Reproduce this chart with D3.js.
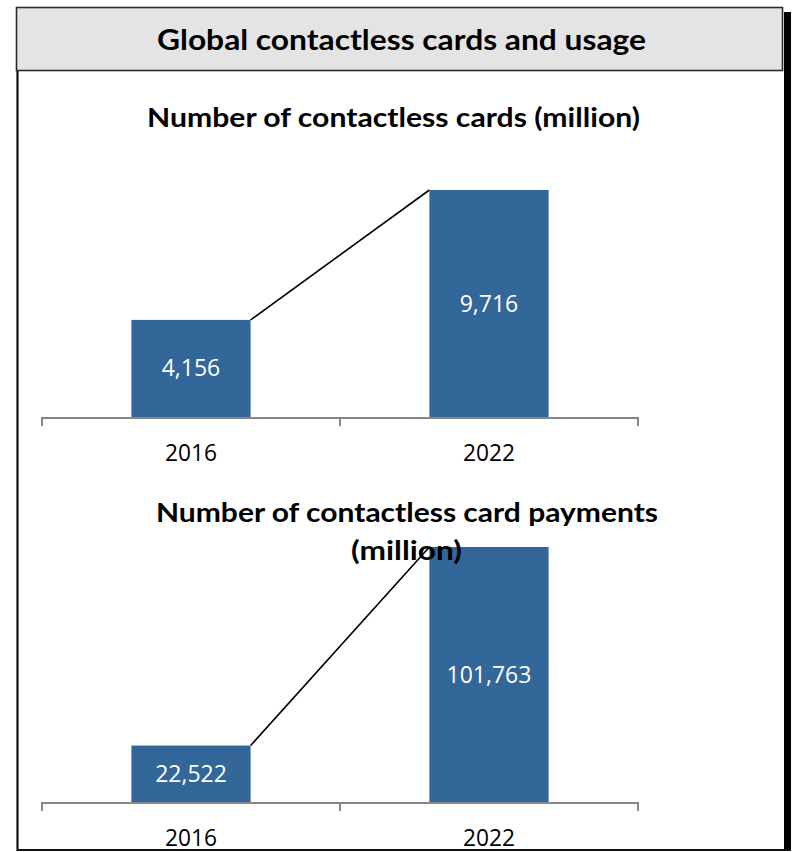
<!DOCTYPE html>
<html>
<head>
<meta charset="utf-8">
<script src="https://cdn.jsdelivr.net/npm/d3@7"></script>
<style>
  html, body { margin: 0; padding: 0; background: #fff; }
  svg { display: block; }
</style>
</head>
<body>
<svg id="chart" width="792" height="852"></svg>
<script>
// Data
const years = ["2016", "2022"];
const cardsMillion = [4156, 9716];
const paymentsMillion = [22522, 101763];
const pageTitle = "Global contactless cards and usage";
const cardsTitle = ["Number of contactless cards (million)"];
const paymentsTitle = ["Number of contactless card payments", "(million)"];

const svg = d3.select("#chart");
const barColor = "#336699";
const axisColor = "#868686";
const fontFamily = "Lato, 'Open Sans', sans-serif";
const labelFont = "'Open Sans', Lato, sans-serif";

// Outer frame: header band, drop shadow on the right, body border
svg.append("rect")
  .attr("x", 784).attr("y", 12).attr("width", 7).attr("height", 839)
  .attr("fill", "#000");
svg.append("rect")
  .attr("x", 16.5).attr("y", 7.5).attr("width", 766).attr("height", 63)
  .attr("fill", "#e4e4e4").attr("stroke", "#2b2b2b").attr("stroke-width", 1.6);
svg.append("line")
  .attr("x1", 17.5).attr("x2", 17.5).attr("y1", 71).attr("y2", 851)
  .attr("stroke", "#111").attr("stroke-width", 2.2);
svg.append("line")
  .attr("x1", 17).attr("x2", 791).attr("y1", 850).attr("y2", 850)
  .attr("stroke", "#111").attr("stroke-width", 2);

function fitted(sel, width) {
  sel.attr("textLength", width).attr("lengthAdjust", "spacingAndGlyphs");
}

svg.append("text")
  .attr("x", 401.5).attr("y", 50)
  .attr("text-anchor", "middle")
  .attr("font-family", fontFamily).attr("font-weight", 700)
  .attr("font-size", 28).attr("fill", "#000")
  .text(pageTitle)
  .call(fitted, 489);

// One bar panel: two bars, a connector between their tops, category axis, labels
function panel(opts) {
  const g = svg.append("g");
  const x = d3.scaleBand()
    .domain(years)
    .range([opts.x0, opts.x1])
    .paddingInner(0.6)
    .paddingOuter(0.3);
  const y = d3.scaleLinear()
    .domain([0, d3.max(opts.values)])
    .range([opts.base, opts.top]);

  const data = years.map((yr, i) => ({ yr, v: opts.values[i] }));

  g.selectAll("rect.bar").data(data).join("rect")
    .attr("class", "bar")
    .attr("x", d => x(d.yr))
    .attr("width", x.bandwidth())
    .attr("y", d => y(d.v))
    .attr("height", d => y(0) - y(d.v))
    .attr("fill", barColor);

  // connector from first bar's top-right to second bar's top-left
  g.append("line")
    .attr("x1", x(years[0]) + x.bandwidth()).attr("y1", y(opts.values[0]))
    .attr("x2", x(years[1])).attr("y2", y(opts.values[1]))
    .attr("stroke", "#000").attr("stroke-width", 1.6);

  // value labels centred in bars
  g.selectAll("text.val").data(data).join("text")
    .attr("class", "val")
    .attr("x", d => x(d.yr) + x.bandwidth() / 2)
    .attr("y", d => (y(d.v) + y(0)) / 2 + 8)
    .attr("text-anchor", "middle")
    .attr("font-family", labelFont).attr("font-size", 23)
    .attr("fill", "#fff")
    .text(d => d3.format(",")(d.v));

  // category axis with ticks at band boundaries
  const edges = [opts.x0, (opts.x0 + opts.x1) / 2, opts.x1];
  g.append("line")
    .attr("x1", opts.x0).attr("x2", opts.x1)
    .attr("y1", y(0) + 1).attr("y2", y(0) + 1)
    .attr("stroke", axisColor).attr("stroke-width", 2);
  g.selectAll("line.tick").data(edges).join("line")
    .attr("class", "tick")
    .attr("x1", d => d).attr("x2", d => d)
    .attr("y1", y(0)).attr("y2", y(0) + 9)
    .attr("stroke", axisColor).attr("stroke-width", 2);

  g.selectAll("text.cat").data(years).join("text")
    .attr("class", "cat")
    .attr("x", d => x(d) + x.bandwidth() / 2)
    .attr("y", y(0) + 44)
    .attr("text-anchor", "middle")
    .attr("font-family", labelFont).attr("font-size", 23)
    .attr("fill", "#000")
    .text(d => d)
    .call(fitted, 52);

  // titles sit on top of the marks
  opts.title.forEach((t, i) => {
    g.append("text")
      .attr("x", opts.titleX[i]).attr("y", opts.titleY[i])
      .attr("text-anchor", "middle")
      .attr("font-family", fontFamily).attr("font-weight", 700)
      .attr("font-size", 27).attr("fill", "#000")
      .text(t)
      .call(fitted, opts.titleW[i]);
  });
}

panel({
  values: cardsMillion,
  title: cardsTitle,
  titleX: [393.5], titleY: [127], titleW: [493],
  x0: 42, x1: 638, base: 417, top: 190
});

panel({
  values: paymentsMillion,
  title: paymentsTitle,
  titleX: [407, 406.5], titleY: [522, 560], titleW: [502, 111],
  x0: 42, x1: 638, base: 802, top: 547
});
</script>
</body>
</html>
